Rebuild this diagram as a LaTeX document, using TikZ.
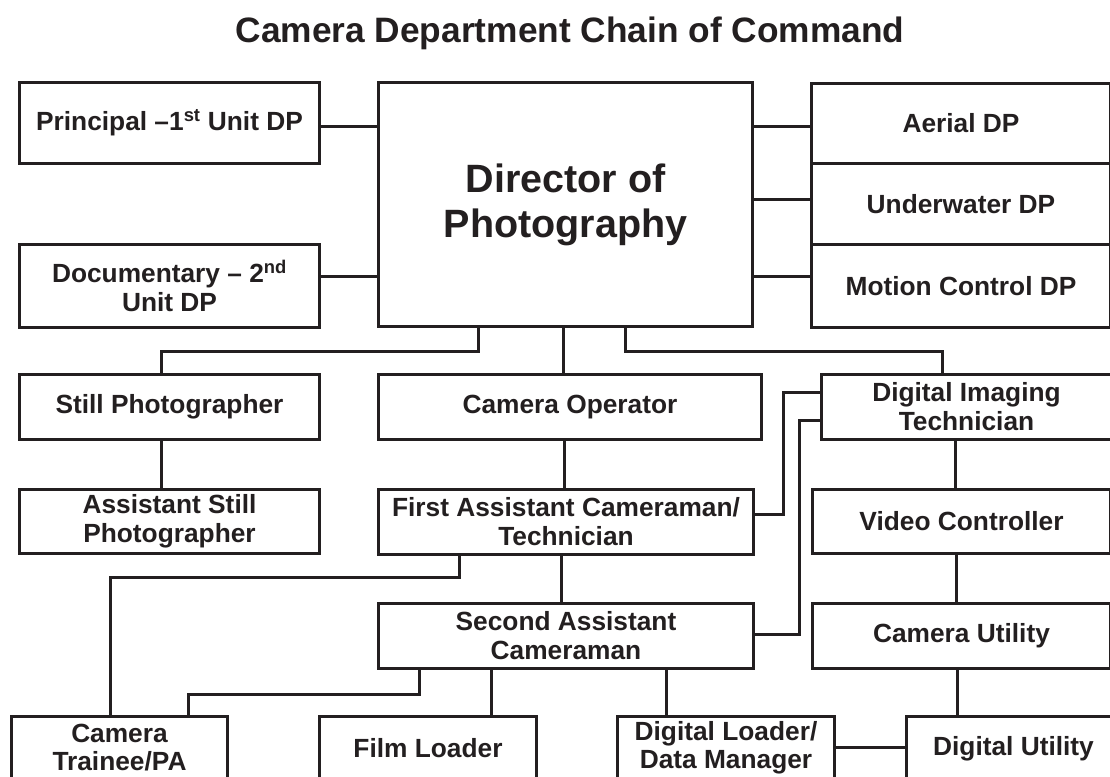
\documentclass[tikz,border=0pt]{standalone}
\usepackage{fontspec}
\setmainfont{Liberation Sans}
\definecolor{ink}{HTML}{231F20}
\begin{document}
\begin{tikzpicture}[x=1pt,y=-1pt,
  box/.style={draw=ink, line width=3pt, fill=white, text=ink, align=center,
    font=\bfseries\fontsize{26.3}{29}\selectfont, inner sep=0pt, anchor=north west},
  wire/.style={draw=ink, line width=3pt, line cap=rect},
  titlestyle/.style={text=ink, font=\bfseries\fontsize{35.3}{40}\selectfont, inner sep=0pt}]
\useasboundingbox[fill=white] (0,0) rectangle (1110,776);
\clip (0,0) rectangle (1110,776);
\node[titlestyle] (title) at (570,33) {Camera Department Chain of Command};
% top rows
\node[box, minimum width=300pt, minimum height=81pt] (pr) at (18,81) {Principal –1\textsuperscript{st} Unit DP};
\node[box, minimum width=300pt, minimum height=83pt] (doc) at (18,243) {Documentary – 2\textsuperscript{nd}\\Unit DP};
\node[box, minimum width=374pt, minimum height=244pt, font=\bfseries\fontsize{39.5}{45}\selectfont] (dop) at (377,81) {Director of\\Photography};
\node[box, minimum width=299pt, minimum height=80pt] (aer) at (810,82) {Aerial DP};
\node[box, minimum width=299pt, minimum height=81pt] (und) at (810,162) {Underwater DP};
\node[box, minimum width=299pt, minimum height=83pt] (mot) at (810,243) {Motion Control DP};
% row 2
\node[box, minimum width=300pt, minimum height=65pt] (still) at (18,373) {Still Photographer};
\node[box, minimum width=383pt, minimum height=65pt] (camop) at (377,373) {Camera Operator};
\node[box, minimum width=290pt, minimum height=65pt] (dit) at (820,373) {Digital Imaging\\Technician};
% row 3
\node[box, minimum width=300pt, minimum height=64pt] (astill) at (18,488) {Assistant Still\\Photographer};
\node[box, minimum width=375pt, minimum height=65pt] (fac) at (377,488) {First Assistant Cameraman/\\Technician};
\node[box, minimum width=298pt, minimum height=64pt] (vid) at (811,488) {Video Controller};
% row 4
\node[box, minimum width=375pt, minimum height=65pt] (sac) at (377,602) {Second Assistant\\Cameraman};
\node[box, minimum width=298pt, minimum height=65pt] (cu) at (811,602) {Camera Utility};
% row 5
\node[box, minimum width=216pt, minimum height=63pt, font=\bfseries\fontsize{26.3}{28}\selectfont] (tr) at (10,715) {Camera\\Trainee/PA};
\node[box, minimum width=217pt, minimum height=64pt] (fl) at (318,715) {Film Loader};
\node[box, minimum width=217pt, minimum height=63pt, font=\bfseries\fontsize{26.3}{28}\selectfont] (dl) at (616,715) {Digital Loader/\\Data Manager};
\node[box, minimum width=214pt, minimum height=64pt] (du) at (905,715) {Digital Utility};
% helper coordinates
\coordinate (ys) at (0,351);
\coordinate (yt) at (0,577);
\coordinate (yu) at (0,694);
\coordinate (yd) at (0,747);
\coordinate (e1) at (783,0);
\coordinate (e2) at (799,0);
% DP side links
\draw[wire] ([yshift=-3.5pt]pr.east) -- ([yshift=-3.5pt]pr.east -| dop.west);
\draw[wire] ([yshift=9.5pt]doc.east) -- ([yshift=9.5pt]doc.east -| dop.west);
\draw[wire] ([yshift=-3pt]aer.west) -- ([yshift=-3pt]aer.west -| dop.east);
\draw[wire] ([yshift=4.5pt]und.west) -- ([yshift=4.5pt]und.west -| dop.east);
\draw[wire] ([yshift=9.5pt]mot.west) -- ([yshift=9.5pt]mot.west -| dop.east);
% DoP down
\draw[wire] ([xshift=-87pt]dop.south) |- ([xshift=-8pt]still.north |- ys) -- ([xshift=-8pt]still.north);
\draw[wire] ([xshift=-2pt]dop.south) -- ([xshift=-2pt]dop.south |- camop.north);
\draw[wire] ([xshift=60pt]dop.south) |- ([xshift=-24pt]dit.north |- ys) -- ([xshift=-24pt]dit.north);
% verticals
\draw[wire] ([xshift=-8pt]still.south) -- ([xshift=-8pt]still.south |- astill.north);
\draw[wire] ([xshift=-6pt]camop.south) -- ([xshift=-6pt]camop.south |- fac.north);
\draw[wire] ([xshift=-11pt]dit.south) -- ([xshift=-11pt]dit.south |- vid.north);
\draw[wire] ([xshift=-4.5pt]fac.south) -- ([xshift=-4.5pt]fac.south |- sac.north);
\draw[wire] ([xshift=-5.5pt]vid.south) -- ([xshift=-5.5pt]vid.south |- cu.north);
\draw[wire] ([xshift=-4.5pt]cu.south) -- ([xshift=-4.5pt]cu.south |- du.north);
% links to DIT
\draw[wire] ([yshift=7.5pt]fac.east) -| ([yshift=14.5pt]dit.west -| e1) -- ([yshift=14.5pt]dit.west);
\draw[wire] ([yshift=1.5pt]sac.east) -| ([yshift=-13.5pt]dit.west -| e2) -- ([yshift=-13.5pt]dit.west);
% links to bottom row
\draw[wire] ([xshift=-106.5pt]fac.south) |- ([xshift=-9pt]tr.north |- yt) -- ([xshift=-9pt]tr.north);
\draw[wire] ([xshift=-146.5pt]sac.south) |- ([xshift=69pt]tr.north |- yu) -- ([xshift=69pt]tr.north);
\draw[wire] ([xshift=-74.5pt]sac.south) -- ([xshift=-74.5pt]sac.south |- fl.north);
\draw[wire] ([xshift=100.5pt]sac.south) -- ([xshift=100.5pt]sac.south |- dl.north);
\draw[wire] (dl.east |- yd) -- (du.west |- yd);
\end{tikzpicture}
\end{document}
